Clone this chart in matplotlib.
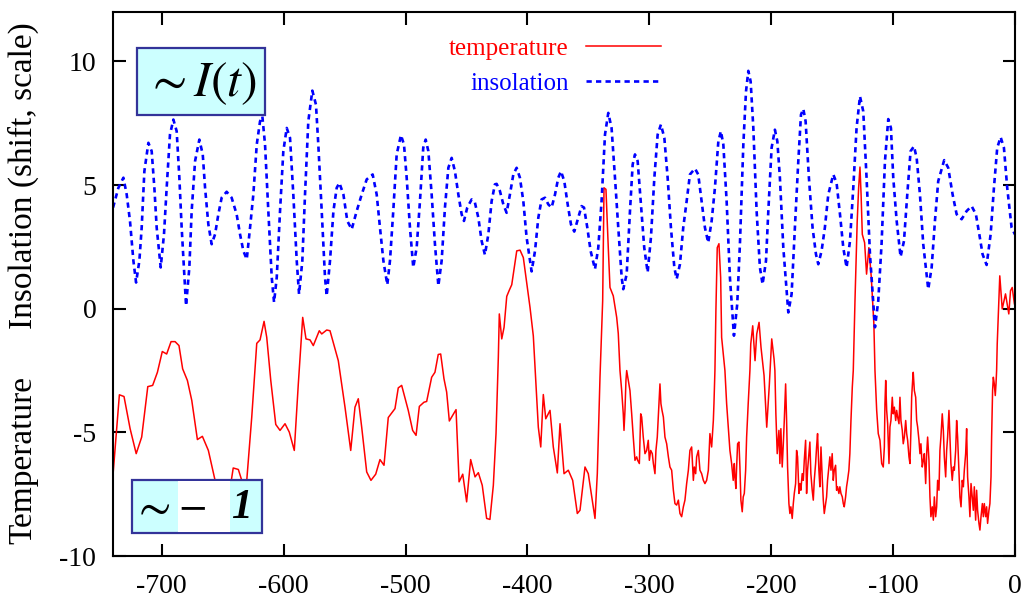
import matplotlib
matplotlib.use("Agg")
import matplotlib.pyplot as plt
from matplotlib.patches import Rectangle

plt.rcParams['font.family'] = ['Liberation Serif', 'DejaVu Serif']
plt.rcParams['mathtext.fontset'] = 'stix'
plt.rcParams['axes.unicode_minus'] = False

# insolation (shifted, scaled): age [kyr], value
ins_age = [-740, -735.6, -731.5, -728.8, -726.1, -723.3, -721.1, -718.4, -716.5, -714.3,
           -711.0, -708.3, -706.1, -704.2, -700.9, -698.2, -696.0, -693.3, -690.5, -687.8,
           -685.6, -683.7, -680.1, -677.4, -675.5, -672.7, -669.2, -666.4, -664.5, -661.8,
           -659.1, -656.3, -653.6, -650.9, -646.8, -642.7, -638.6, -635.8, -633.1, -630.3,
           -627.6, -624.9, -622.1, -619.4, -617.5, -615.3, -612.6, -609.8, -607.9, -605.7,
           -603.0, -600.3, -597.5, -594.8, -592.1, -589.3, -587.4, -584.7, -582.5, -579.8,
           -576.5, -573.5, -571.6, -568.8, -566.1, -564.7, -562.0, -559.2, -556.5, -554.3,
           -551.0, -547.8, -544.2, -540.1, -536.0, -531.9, -527.0, -523.7, -521.0, -518.2,
           -515.0, -512.8, -510.1, -507.3, -503.8, -501.3, -499.1, -496.4, -493.7, -490.9,
           -488.2, -485.5, -483.5, -481.3, -478.6, -475.9, -473.1, -470.4, -467.7, -464.9,
           -462.2, -459.5, -456.7, -454.0, -452.1, -449.4, -445.8, -443.1, -440.3, -437.6,
           -434.9, -432.1, -429.4, -426.7, -425.3, -422.6, -419.8, -417.1, -414.4, -411.6,
           -408.9, -406.2, -403.4, -400.7, -396.6, -393.8, -391.1, -388.4, -385.6, -382.9,
           -380.2, -377.4, -374.7, -372.5, -369.8, -367.0, -364.3, -361.6, -358.3, -355.6,
           -353.6, -350.9, -348.2, -344.6, -341.9, -339.2, -336.4, -333.7, -331.0, -328.2,
           -325.5, -322.7, -321.4, -318.6, -315.9, -313.7, -311.8, -309.6, -306.9, -304.2,
           -301.4, -298.7, -295.9, -293.2, -290.5, -287.7, -285.0, -282.3, -279.5, -277.6,
           -274.9, -272.2, -269.4, -266.7, -262.6, -259.9, -257.1, -254.4, -251.7, -248.9,
           -246.2, -243.4, -241.3, -239.3, -236.6, -233.9, -230.6, -227.9, -225.7, -222.9,
           -220.7, -218.8, -216.9, -214.7, -212.0, -209.3, -207.1, -204.3, -202.4, -199.7,
           -197.0, -195.0, -192.9, -190.1, -186.0, -183.3, -180.6, -177.8, -175.6, -173.7,
           -171.8, -169.1, -166.1, -163.3, -161.4, -158.7, -156.0, -153.2, -149.1, -146.4,
           -143.6, -140.9, -138.2, -135.4, -132.7, -130.0, -127.2, -124.5, -121.8, -119.0,
           -114.9, -112.2, -109.5, -106.7, -104.0, -101.8, -99.9, -97.1, -93.9, -91.1,
           -88.4, -85.7, -82.9, -80.7, -78.0, -75.3, -71.2, -68.4, -65.7, -63.0,
           -58.1, -54.8, -51.2, -47.9, -43.8, -39.7, -35.6, -32.1, -29.3, -26.6,
           -23.3, -20.0, -17.3, -14.6, -11.8, -9.1, -6.4, -2.8, 0]
ins_val = [4.09, 4.89, 5.30, 4.62, 3.55, 1.94, 1.06, 1.94, 3.28, 5.56,
           6.71, 6.37, 4.89, 3.28, 1.67, 3.01, 4.89, 7.04, 7.65, 7.18,
           5.30, 3.28, 0.12, 1.67, 3.95, 5.97, 6.84, 6.24, 4.89, 3.41,
           2.61, 3.01, 3.82, 4.49, 4.73, 4.49, 3.82, 3.01, 2.34, 2.0,
           3.28, 4.62, 6.64, 7.58, 7.78, 6.64, 3.95, 1.26, 0.26, 1.26,
           3.95, 6.37, 7.31, 6.91, 4.62, 1.94, 0.59, 1.94, 4.62, 7.58,
           8.82, 8.25, 6.64, 3.95, 1.26, 0.52, 1.94, 3.95, 4.89, 5.09,
           4.62, 3.55, 3.21, 3.95, 4.62, 5.23, 5.43, 4.62, 3.28, 1.94,
           0.97, 1.94, 3.95, 6.24, 7.02, 6.64, 5.30, 3.28, 1.67, 2.47,
           4.35, 6.51, 6.84, 6.37, 4.62, 2.61, 0.93, 1.94, 4.09, 5.70,
           6.10, 5.56, 4.62, 3.82, 3.55, 4.09, 4.42, 4.29, 3.68, 2.74,
           2.18, 3.01, 4.35, 5.03, 5.05, 4.76, 4.22, 3.88, 4.62, 5.43,
           5.70, 5.30, 4.35, 2.88, 1.51, 2.34, 3.68, 4.42, 4.49, 4.22,
           4.09, 4.62, 5.30, 5.56, 5.16, 4.22, 3.41, 3.12, 3.68, 4.15,
           4.09, 3.28, 2.34, 1.60, 2.47, 4.35, 7.04, 7.92, 7.31, 5.30,
           3.28, 1.26, 0.79, 1.40, 3.95, 5.83, 6.24, 5.97, 4.22, 2.47,
           1.47, 2.88, 5.30, 7.04, 7.45, 6.91, 5.30, 3.28, 1.67, 1.20,
           1.80, 3.28, 4.35, 5.43, 5.67, 5.43, 4.35, 3.28, 2.67, 3.55,
           4.89, 6.77, 7.18, 6.64, 4.35, 1.26, -1.09, 0.19, 2.61, 6.64,
           8.79, 9.62, 9.19, 7.31, 3.95, 1.67, 0.99, 1.94, 3.95, 6.51,
           7.24, 6.77, 5.30, 2.47, -0.15, 0.59, 3.28, 5.97, 7.85, 8.08,
           7.58, 5.30, 3.28, 2.20, 1.80, 2.34, 3.28, 4.62, 5.43, 5.09,
           3.82, 2.47, 1.67, 2.74, 4.89, 7.31, 8.59, 7.98, 5.30, 2.20,
           -0.75, 0.32, 2.61, 5.97, 7.67, 7.31, 5.30, 3.55, 2.10, 2.74,
           4.62, 6.37, 6.57, 6.10, 4.62, 2.61, 0.79, 1.67, 3.55, 5.16,
           6.01, 5.70, 4.62, 3.82, 3.62, 3.95, 4.15, 3.82, 3.01, 2.20,
           1.77, 3.01, 4.89, 6.51, 6.94, 6.51, 4.89, 3.28, 3.0]

# temperature
temp_age = [-740, -734.8, -731, -726, -721, -716.5, -711.5, -707.5, -703.6, -699.6,
            -696, -692.4, -689.1, -685.9, -682.9, -679, -675.4, -670.8, -666.7, -661.8,
            -656.3, -650, -645, -641.4, -637.2, -634.4, -632, -630.3, -626.2, -622.1,
            -619.4, -616.1, -613.9, -610.6, -606.5, -603, -598.9, -595.4, -591.3, -588,
            -584.4, -581.7, -578.4, -575.7, -570.8, -568.8, -564.7, -562, -555.2, -549.7,
            -545, -541.5, -538.8, -536, -531.9, -528.4, -524.5, -521, -517.7, -514.2,
            -508.7, -506, -503.2, -497.8, -494.2, -491.4, -488.7, -484.9, -482.7, -478.6,
            -475.9, -473.2, -471.2, -468.5, -466.3, -464.1, -458.6, -456.1, -453.1, -449.9,
            -446.6, -443, -440.3, -437.1, -433.5, -430.8, -428, -425.8, -423.9, -423.1,
            -421.1, -419.2, -417, -414.9, -412.9, -408.8, -406.1, -403.4, -397.9, -395.2,
            -393.8, -391.1, -389.1, -387, -385, -381.5, -378.8, -375.5, -373.3, -370,
            -366.5, -362.9, -359.1, -356.9, -352.8, -350.1, -344.6, -342.7, -340.5, -338.3,
            -337.2, -335.6, -333.7, -332.3, -329.6, -326.8, -325.5,
            -324.1, -322.7, -321.4, -320.8, -320.0, -319.2, -318.6, -317.3, -315.9, -314.5,
            -313.2, -311.8, -310.4, -309.6, -308.2, -307.1, -306.3, -305.0, -303.6, -302.2,
            -300.9, -300.0, -298.9, -297.6, -296.7, -295.4, -294.6, -293.5, -292.4, -291.3,
            -290.5, -289.6, -288.5, -287.2, -285.8, -284.4, -283.1, -281.7, -280.3, -279.0,
            -277.6, -276.2, -274.9, -273.5, -272.1, -270.8, -269.4, -268.0, -266.7, -265.3,
            -263.9, -263.1, -262.0, -261.2, -259.8, -258.5, -257.1, -255.7, -254.4, -253.0,
            -251.6, -250.3, -248.9, -247.5, -247.0, -246.2,
            -245.4, -244.3, -242.9, -241.5, -240.7,
            -238.0, -236.6, -235.3, -233.9, -232.5, -231.2, -230.3, -229.8, -229.0, -228.4,
            -227.6, -226.5, -225.7, -224.9, -223.8, -223.0, -222.1, -221.0, -220.2, -218.9,
            -217.5,
            -216.8, -215.2, -213.3, -211.9, -210, -208.4, -205.9, -203.7, -201.6, -199.6,
            -197.7,
            -197.0, -196.2, -195.1, -193.7, -192.9, -192.1, -191.0, -190.1, -189.3, -188.2,
            -187.4, -186.6, -185.5, -184.7, -183.9, -182.8, -181.9, -181.1, -180.0, -179.2,
            -178.4, -177.3, -176.5, -175.7, -174.6, -173.7, -172.9, -171.8, -171.0, -170.2,
            -169.1, -168.3, -167.5, -166.4, -165.5, -164.7, -163.6, -162.8, -162.0, -160.9,
            -160.1, -159.2, -158.2, -157.3, -156.5, -155.4, -154.6, -153.8, -152.7, -151.9,
            -151.0, -150.0, -149.1, -148.3, -147.2, -146.4, -145.6, -144.5, -143.7, -142.8,
            -141.7, -140.9, -140.1, -139.0, -138.2, -137.4, -136.3, -135.5, -134.6, -133.5,
            -132.7,
            -131.3, -129.5, -128.3, -127.2, -126.3, -125.3, -123.4, -121.8, -119.9, -117.9,
            -115.8,
            -114.9, -113.5, -112.2, -110.8, -109.4, -108.1, -107.2, -106.7, -106.1, -105.3,
            -104.5, -103.4, -102.6, -101.8, -100.7, -99.9, -99.0, -97.9, -97.1, -96.3,
            -95.2, -94.4, -93.6, -92.5, -91.7, -90.8, -89.7, -88.9, -88.1, -87.0,
            -86.2, -85.4, -84.8, -84.0, -83.5, -82.6, -81.5, -80.7, -79.9, -78.8,
            -78.0, -77.2, -76.1, -75.2, -74.4, -73.3, -72.5, -71.7, -70.6, -69.8,
            -69.0, -67.9, -67.0, -66.2, -65.1, -64.3, -63.5, -62.4, -61.6, -60.8,
            -59.7, -58.8, -58.0, -56.9, -56.1, -55.3, -54.2, -53.4, -52.6, -51.5,
            -50.6, -49.8, -48.7, -47.9, -47.1, -46.0, -45.2, -44.3, -43.3, -42.4,
            -41.6, -40.5, -39.7, -38.9, -37.8, -37.0, -36.1, -35.1, -34.2, -33.4,
            -32.3, -31.5, -30.7, -29.6, -28.8, -27.9, -26.8, -26.0, -25.2, -24.1,
            -23.3, -22.5, -21.4, -20.6, -19.7, -19.2, -18.4, -17.8, -17.0, -16.2,
            -15.6, -15.1,
            -14.6, -12.5, -10.5, -7.8, -5.1, -3.7, -2.3, -0.5]
temp_val = [-6.7, -3.48, -3.55, -4.85, -5.86, -5.19, -3.15, -3.1, -2.57, -1.73,
            -1.83, -1.33, -1.33, -1.49, -2.43, -2.9, -3.71, -5.29, -5.16, -5.73,
            -6.94, -8.2, -7.6, -6.44, -6.5, -6.94, -7.6, -6.94, -4.38, -1.4,
            -1.26, -0.51, -1.16, -2.9, -4.68, -4.92, -4.65, -4.99, -5.73, -3.04,
            -0.35, -1.22, -1.26, -1.49, -0.89, -1.02, -0.86, -0.89, -2.1, -3.98,
            -5.73, -3.98, -3.64, -4.79, -6.6, -6.94, -6.69, -6.1, -6.33, -4.4,
            -4.04, -3.2, -3.1, -4.11, -4.92, -5.12, -3.95, -3.78, -3.75, -2.77,
            -2.57, -1.85, -1.83, -2.83, -3.37, -4.54, -4.08, -7.0, -6.69, -7.81,
            -6.1, -6.8, -6.63, -7.14, -8.48, -8.52, -7.14, -5.05, -1.96, -0.21,
            -1.22, -0.75, 0.5, 0.75, 0.97, 2.34, 2.37, 2.07, 0.05, -1.1,
            -2.37, -4.79, -5.59, -3.47, -4.45, -4.11, -5.59, -6.64, -4.65, -6.67,
            -6.53, -6.94, -8.28, -8.15, -6.4, -6.67, -8.48, -6.67, -2.77, 0.32,
            4.89, 4.83, 2.47, 0.86, 0.52, -0.35, -1.0,
            -2.5, -3.31, -4.25, -4.92, -4.11, -2.90, -2.5, -2.90, -3.31, -4.25,
            -5.19, -6.13, -5.99, -6.13, -6.26, -4.25, -4.38, -5.19, -5.86, -5.73,
            -5.32, -6.13, -5.73, -5.86, -6.26, -6.67, -5.73, -5.19, -4.11, -3.04,
            -3.84, -4.11, -4.38, -5.19, -5.46, -5.99, -6.40, -6.53, -7.34, -7.88,
            -7.94, -7.74, -8.28, -8.41, -8.01, -7.74, -7.07, -6.53, -5.73, -5.59,
            -6.94, -6.40, -6.67, -5.99, -5.73, -6.53, -6.67, -6.94, -7.07, -6.94,
            -6.53, -5.05, -5.59, -4.52, -3.84, -2.5,
            -0.08, 2.47, 2.63, 1.26, -1.16,
            -2.5, -3.84, -4.78, -5.73, -6.26, -6.94, -6.26, -6.80, -7.27, -6.40,
            -5.46, -5.39, -6.40, -7.74, -8.21, -7.61, -7.47, -6.53, -5.19, -3.84,
            -2.5,
            -1.42, -0.69, -2.1, -1.02, -0.55, -1.56, -2.7, -4.79, -3.1, -1.22,
            -2.03,
            -2.5, -4.25, -5.86, -4.92, -6.26, -4.85, -6.40, -5.46, -4.52, -3.04,
            -4.52, -6.40, -7.88, -8.28, -8.01, -8.48, -7.88, -7.47, -7.07, -5.73,
            -5.99, -7.47, -7.07, -7.34, -6.67, -6.94, -6.13, -5.32, -7.47, -6.53,
            -5.86, -5.39, -6.67, -7.34, -7.74, -6.94, -6.26, -5.59, -5.05, -6.53,
            -7.20, -5.59, -6.80, -7.74, -8.28, -7.88, -7.61, -6.94, -6.40, -5.99,
            -6.53, -5.86, -6.94, -6.53, -6.33, -7.34, -7.20, -7.47, -7.20, -7.47,
            -7.61, -7.88, -8.01, -7.61, -7.20, -6.94, -6.53, -5.86, -4.52, -3.17,
            -2.5,
            0.32, 3.5, 4.89, 5.73, 4.63, 3.01, 2.67, 1.4, 2.47, 1.26,
            -0.62,
            -2.5, -4.11, -5.05, -5.32, -6.26, -6.40, -5.59, -3.84, -2.90, -4.11,
            -4.65, -6.26, -4.78, -4.52, -3.58, -4.25, -3.98, -4.52, -4.11, -4.38,
            -4.65, -3.58, -4.52, -4.92, -5.46, -5.19, -4.52, -5.05, -5.32, -5.99,
            -6.26, -4.92, -3.58, -2.90, -2.57, -3.31, -3.58, -4.52, -4.78, -5.32,
            -5.86, -5.46, -6.40, -6.13, -5.86, -7.07, -5.86, -5.19, -6.13, -7.61,
            -8.41, -8.01, -8.55, -7.61, -8.41, -8.01, -6.94, -7.34, -5.73, -5.19,
            -4.25, -4.92, -5.99, -6.80, -5.73, -5.19, -4.11, -5.19, -6.26, -6.94,
            -6.40, -6.53, -5.73, -4.52, -5.19, -6.53, -7.61, -8.01, -6.94, -7.20,
            -6.53, -5.86, -4.85, -6.80, -7.61, -8.41, -7.07, -7.61, -8.15, -7.20,
            -8.55, -7.34, -8.15, -8.68, -8.95, -8.41, -7.88, -8.41, -7.88, -8.41,
            -8.01, -8.68, -8.15, -7.88, -6.80, -5.19, -3.31, -2.77, -3.04, -3.51,
            -3.04, -2.5,
            -1.42, 1.33, -0.01, 0.6, -0.21, 0.73, 0.86, 0.2]

xticks = [-700, -600, -500, -400, -300, -200, -100, 0]
yticks = [-10, -5, 0, 5, 10]

fig = plt.figure(figsize=(10.23, 6.0), dpi=100, facecolor='white')
ax = fig.add_axes([0.1105, 0.0733, 0.8817, 0.9067])

ax.plot(temp_age, temp_val, color='#ff0000', lw=1.1, label='temperature')
ax.plot(ins_age, ins_val, color='#0000ff', lw=1.9, ls=(0, (2.0, 1.6)), label='insolation')

ax.set_xlim(-740, 0)
ax.set_ylim(-10, 12)
ax.set_xticks(xticks)
ax.set_yticks(yticks)
ax.tick_params(direction='in', length=9, width=1.5, top=True, right=True, labelsize=20)
ax.tick_params(axis='x', pad=13)
ax.tick_params(axis='y', pad=12)
for s in ax.spines.values():
    s.set_linewidth(1.5)

leg = ax.legend(loc='upper center', bbox_to_anchor=(0.49, 0.985), frameon=False,
                markerfirst=False, fontsize=18, handlelength=3.0, handletextpad=0.7,
                labelspacing=0.49, borderpad=0.2, labelcolor='linecolor')

# labelled boxes
ax.add_patch(Rectangle((0.0266, 0.8107), 0.1419, 0.1233, transform=ax.transAxes,
                       facecolor='#ccffff', edgecolor='#333399', lw=1.6, zorder=5))
ax.text(0.0976, 0.868, r'$\sim I(t)$', transform=ax.transAxes, ha='center', va='center',
        fontsize=36, zorder=6)

ax.add_patch(Rectangle((0.0211, 0.0423), 0.1441, 0.0974, transform=ax.transAxes,
                       facecolor='#ccffff', edgecolor='#333399', lw=1.6, zorder=5))
ax.add_patch(Rectangle((0.0721, 0.0435), 0.0576, 0.095, transform=ax.transAxes,
                       facecolor='white', edgecolor='none', zorder=5))
ax.text(0.043, 0.088, r'$\sim$', transform=ax.transAxes, ha='center', va='center',
        fontsize=34, zorder=6)
ax.text(0.088, 0.091, r'$-$', transform=ax.transAxes, ha='center', va='center',
        fontsize=30, zorder=6)
ax.text(0.142, 0.088, '1', transform=ax.transAxes, ha='center', va='center',
        fontsize=30, fontweight='bold', style='italic', zorder=6)

fig.text(0.023, 0.707, 'Insolation (shift, scale)', rotation=90, ha='center', va='center',
         fontsize=24)
fig.text(0.023, 0.233, 'Temperature', rotation=90, ha='center', va='center', fontsize=24)

fig.savefig('out.png', dpi=100)
